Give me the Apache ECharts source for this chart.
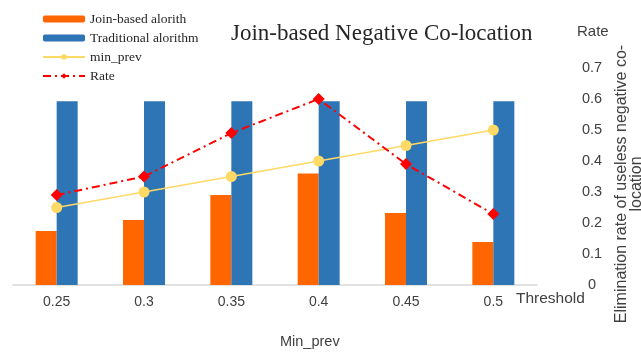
<!DOCTYPE html>
<html><head><meta charset="utf-8">
<script src="https://cdn.jsdelivr.net/npm/echarts@6/dist/echarts.min.js"></script>
<style>html,body{margin:0;padding:0;background:#fff}#c{width:641px;height:354px}</style>
</head><body><div id="c"></div>
<script>
var categories = ['0.25','0.3','0.35','0.4','0.45','0.5'];
var joinBased = [0.174, 0.21, 0.29, 0.36, 0.232, 0.139];
var traditional = [0.593, 0.593, 0.593, 0.593, 0.593, 0.593];
var minPrev = [0.25, 0.3, 0.35, 0.4, 0.45, 0.5];
var rate = [0.29, 0.35, 0.49, 0.60, 0.39, 0.229];
var rateTicks = [0, 0.7, 0.1];

var chart = echarts.init(document.getElementById('c'));
var txt = '#404040';
var sans = '"Liberation Sans", Arial, sans-serif';
var serif = '"Liberation Serif", "Times New Roman", serif';
chart.setOption({
  animation: false,
  grid: {left: 13, right: 104, top: 68, bottom: 69, containLabel: false},
  title: {text: 'Join-based Negative Co-location', left: 226, top: 17,
    textStyle: {fontFamily: serif, fontSize: 23, fontWeight: 'normal', color: '#262626'}},
  legend: {orient: 'vertical', left: 37, top: 7, itemWidth: 42, itemHeight: 7, itemGap: 5,
    textStyle: {fontFamily: serif, fontSize: 13.5, color: '#262626'},
    data: ['Join-based alorith', 'Traditional alorithm', 'min_prev', 'Rate']},
  xAxis: {type: 'category', data: categories,
    axisLine: {lineStyle: {color: '#d9d9d9', width: 1.5}}, axisTick: {show: false},
    axisLabel: {color: txt, fontFamily: sans, fontSize: 14, margin: 10}},
  yAxis: {type: 'value', position: 'right', min: rateTicks[0], max: rateTicks[1], interval: rateTicks[2],
    splitLine: {show: false}, axisLine: {show: false}, axisTick: {show: false},
    axisLabel: {color: txt, fontFamily: sans, fontSize: 14.5, margin: 55, align: 'center'}},
  graphic: [
    {type: 'text', left: 577, top: 24, style: {text: 'Rate', fill: txt, font: '15px ' + sans}},
    {type: 'text', left: 516, top: 291, style: {text: 'Threshold', fill: txt, font: '15.5px ' + sans}},
    {type: 'text', left: 280, top: 334, style: {text: 'Min_prev', fill: txt, font: '14.5px ' + sans}},
    {type: 'text', x: 629, y: 184, rotation: Math.PI / 2,
      style: {text: 'Elimination rate of useless negative co-\nlocation', fill: txt, font: '16px ' + sans,
        align: 'center', verticalAlign: 'middle', lineHeight: 15}}
  ],
  series: [
    {name: 'Join-based alorith', type: 'bar', data: joinBased, barWidth: 21, barGap: '0%',
      itemStyle: {color: '#FF6600'}},
    {name: 'Traditional alorithm', type: 'bar', data: traditional, barWidth: 21,
      itemStyle: {color: '#2E75B6'}},
    {name: 'min_prev', type: 'line', data: minPrev, symbol: 'circle', symbolSize: 11,
      lineStyle: {color: '#FFD966', width: 1.5}, itemStyle: {color: '#FFD966'}},
    {name: 'Rate', type: 'line', data: rate, symbol: 'diamond', symbolSize: 12,
      lineStyle: {color: '#FF0000', width: 2, type: [8, 4, 2, 4]}, itemStyle: {color: '#FF0000'}}
  ]
});
</script></body></html>
